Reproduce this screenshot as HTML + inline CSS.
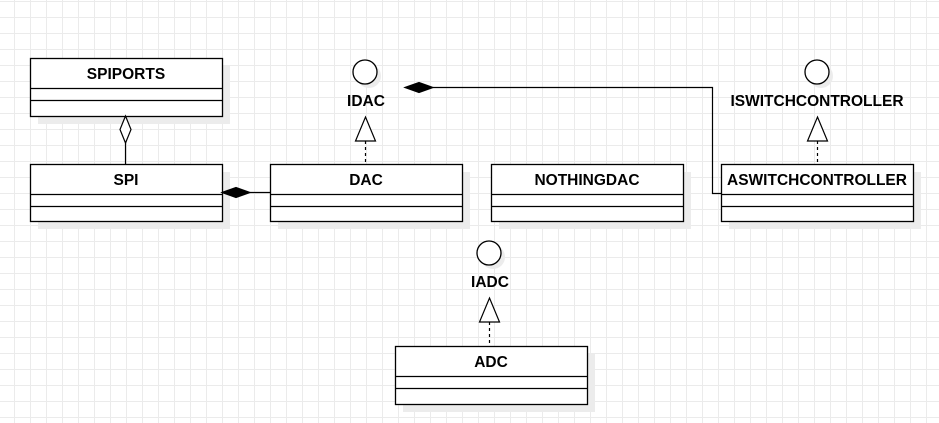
<!DOCTYPE html>
<html><head><style>
html,body{margin:0;padding:0;background:#fff;}
svg{display:block;}
text{font-family:"Liberation Sans",Arial,sans-serif;font-weight:bold;font-size:15.5px;fill:#000;}
</style></head><body>
<svg width="939" height="423" xmlns="http://www.w3.org/2000/svg">
<defs>
<pattern id="g" x="14" y="1" width="16" height="16" patternUnits="userSpaceOnUse">
<path d="M0.5 0V16M0 0.5H16" stroke="#ebebeb" stroke-width="1" fill="none"/>
</pattern>
</defs>
<rect width="939" height="423" fill="url(#g)"/>
<g fill="#ececec">
<rect x="38" y="66" width="192" height="58"/>
<rect x="38" y="172" width="192" height="57"/>
<rect x="278" y="172" width="192" height="57"/>
<rect x="499" y="172" width="192" height="57"/>
<rect x="729" y="172" width="192" height="57"/>
<rect x="403" y="354" width="192" height="58"/>
<circle cx="369" cy="76" r="12"/><circle cx="821" cy="76" r="12"/><circle cx="493" cy="257" r="12"/>
</g>
<g fill="#fff" stroke="#000" stroke-width="1.3">
<rect x="30.5" y="58.5" width="192" height="58"/>
<line x1="30" y1="88.5" x2="222" y2="88.5"/><line x1="30" y1="100.5" x2="222" y2="100.5"/>
<rect x="30.5" y="164.5" width="192" height="57"/>
<line x1="30" y1="194.5" x2="222" y2="194.5"/><line x1="30" y1="206.5" x2="222" y2="206.5"/>
<rect x="270.5" y="164.5" width="192" height="57"/>
<line x1="270" y1="194.5" x2="462" y2="194.5"/><line x1="270" y1="206.5" x2="462" y2="206.5"/>
<rect x="491.5" y="164.5" width="192" height="57"/>
<line x1="491" y1="194.5" x2="683" y2="194.5"/><line x1="491" y1="206.5" x2="683" y2="206.5"/>
<rect x="721.5" y="164.5" width="192" height="57"/>
<line x1="721" y1="194.5" x2="913" y2="194.5"/><line x1="721" y1="206.5" x2="913" y2="206.5"/>
<rect x="395.5" y="346.5" width="192" height="58"/>
<line x1="395" y1="376.5" x2="587" y2="376.5"/><line x1="395" y1="388.5" x2="587" y2="388.5"/>
<circle cx="365" cy="72" r="12"/><circle cx="817" cy="72" r="12"/><circle cx="489" cy="253" r="12"/>
</g>
<g text-anchor="middle">
<text x="126" y="79">SPIPORTS</text>
<text x="126" y="185">SPI</text>
<text x="366" y="185">DAC</text>
<text x="587" y="185">NOTHINGDAC</text>
<text x="817" y="185">ASWITCHCONTROLLER</text>
<text x="491" y="367">ADC</text>
<text x="366" y="106">IDAC</text>
<text x="817" y="106">ISWITCHCONTROLLER</text>
<text x="490" y="287">IADC</text>
</g>
<g stroke="#000" stroke-width="1.2" fill="none">
<line x1="125.5" y1="143" x2="125.5" y2="164"/>
<line x1="250" y1="192.5" x2="270" y2="192.5"/>
<polyline points="433,87.5 712.5,87.5 712.5,193.5 721,193.5"/>
<g stroke-dasharray="3,3">
<line x1="365.5" y1="141" x2="365.5" y2="164"/>
<line x1="817.5" y1="141" x2="817.5" y2="164"/>
<line x1="489.5" y1="322" x2="489.5" y2="346"/>
</g>
</g>
<g stroke="#000" stroke-width="1.2">
<polygon points="125.5,116 131,129.5 125.5,143 120,129.5" fill="#fff"/>
<polygon points="222,192.5 236,187.5 250,192.5 236,197.5" fill="#000"/>
<polygon points="405,87.5 419,82.5 433,87.5 419,92.5" fill="#000"/>
<polygon points="365.5,117 375.5,141 355.5,141" fill="#fff"/>
<polygon points="817.5,117 827.5,141 807.5,141" fill="#fff"/>
<polygon points="489.5,298 499.5,322 479.5,322" fill="#fff"/>
</g>
</svg>
</body></html>
